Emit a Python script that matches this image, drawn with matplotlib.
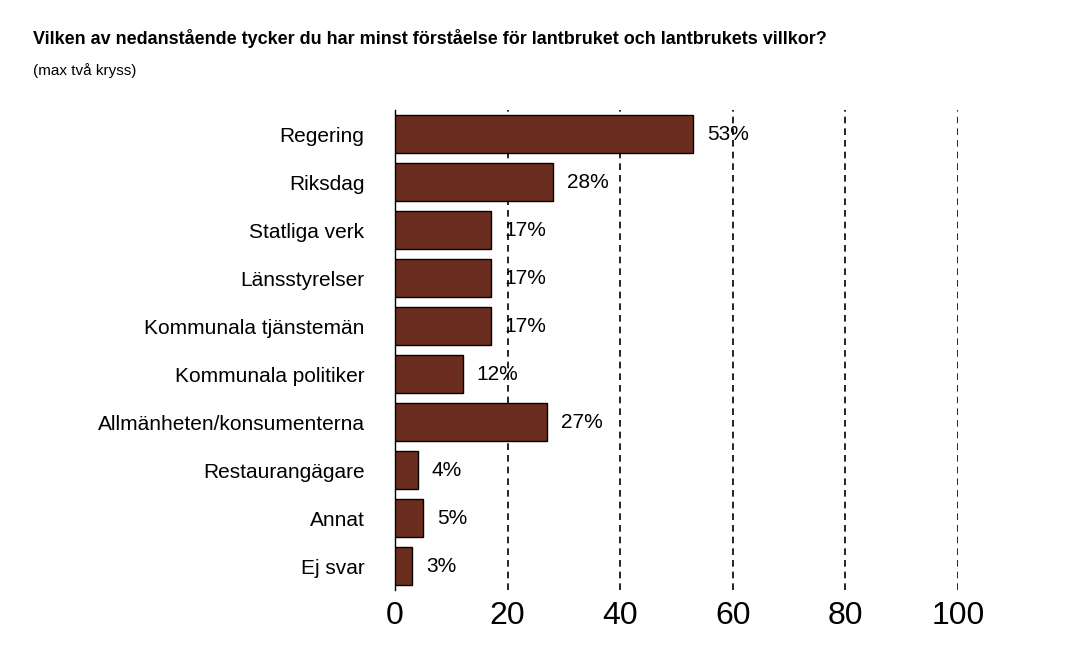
import matplotlib.pyplot as plt

plt.rcParams["font.family"] = "Liberation Sans"

categories = ["Regering", "Riksdag", "Statliga verk", "Länsstyrelser",
              "Kommunala tjänstemän", "Kommunala politiker",
              "Allmänheten/konsumenterna", "Restaurangägare", "Annat", "Ej svar"]
values = [53, 28, 17, 17, 17, 12, 27, 4, 5, 3]
xticks = [0, 20, 40, 60, 80, 100]

fig = plt.figure(figsize=(10.74, 6.72), dpi=100)
ax = fig.add_axes([0.3678, 0.122, 0.5242, 0.714])

y = list(range(len(categories)))
ax.barh(y, values, height=0.78, color="#6b2d1e", edgecolor="black", linewidth=1, zorder=3)
for yi, v in zip(y, values):
    ax.text(v + 2.5, yi, f"{v}%", va="center", ha="left", fontsize=15, zorder=4)

ax.set_ylim(len(categories) - 0.5, -0.5)
ax.set_xlim(0, 100)
ax.set_yticks(y)
ax.set_yticklabels(categories, fontsize=15)
ax.set_xticks(xticks)
ax.set_xticklabels([str(t) for t in xticks], fontsize=23)
ax.tick_params(axis="y", length=0, pad=22)
ax.tick_params(axis="x", length=0, pad=8)
for t in xticks[1:]:
    ax.axvline(t, color="black", linestyle=(0, (4, 3)), linewidth=1.2, zorder=1)
for s in ["top", "right", "bottom"]:
    ax.spines[s].set_visible(False)
ax.spines["left"].set_linewidth(1)

fig.text(0.031, 0.935, "Vilken av nedanstående tycker du har minst förståelse för lantbruket och lantbrukets villkor?",
         fontsize=13, fontweight="bold")
fig.text(0.031, 0.888, "(max två kryss)", fontsize=11)

fig.savefig("out.png", dpi=100)
